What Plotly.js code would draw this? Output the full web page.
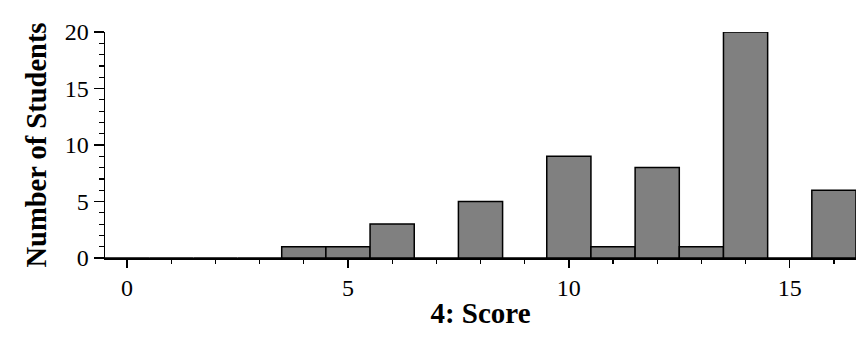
<!DOCTYPE html>
<html><head><meta charset="utf-8">
<script src="https://cdn.plot.ly/plotly-3.0.1.min.js"></script>
<style>html,body{margin:0;padding:0;background:#fff}#chart{width:865px;height:338px}</style>
</head><body><div id="chart"></div>
<script>
const scores = [0,1,2,3,4,5,6,7,8,9,10,11,12,13,14,15,16];
const counts = [0,0,0,0,1,1,3,0,5,0,9,1,8,1,20,0,6];
const xTitle = "4: Score";
const yTitle = "Number of Students";

const font = {family: "Liberation Serif, Times New Roman, serif", color: "#000"};
Plotly.newPlot("chart", [{
  type: "bar", x: scores, y: counts, width: 1,
  marker: {color: "#808080", line: {color: "#000", width: 1.5}},
  hoverinfo: "x+y"
}], {
  width: 865, height: 338,
  margin: {l: 105, r: 9, t: 32, b: 80},
  paper_bgcolor: "#fff", plot_bgcolor: "#fff",
  showlegend: false, bargap: 0,
  font: Object.assign({size: 24}, font),
  xaxis: {
    range: [-0.5, 16.5], dtick: 5, tick0: 0,
    ticks: "outside", ticklen: 8, tickwidth: 1.5, tickcolor: "#000",
    minor: {dtick: 1, tick0: 0, ticks: "outside", ticklen: 4, tickwidth: 1.2, tickcolor: "#000"},
    showline: true, linecolor: "#000", linewidth: 1.5,
    showgrid: false, zeroline: false,
    tickfont: Object.assign({size: 24}, font),
    title: {text: "<b>" + xTitle + "</b>", font: Object.assign({size: 29}, font), standoff: 2}
  },
  yaxis: {
    range: [0, 20], dtick: 5, tick0: 0,
    ticks: "outside", ticklen: 10, tickwidth: 1.5, tickcolor: "#000",
    minor: {dtick: 1, tick0: 0, ticks: "outside", ticklen: 5, tickwidth: 1.2, tickcolor: "#000"},
    showline: true, linecolor: "#000", linewidth: 1.5,
    showgrid: false, zeroline: false,
    tickfont: Object.assign({size: 24}, font),
    title: {text: "<b>" + yTitle + "</b>", font: Object.assign({size: 28.5}, font), standoff: 9}
  }
}, {displayModeBar: false, staticPlot: true});
</script></body></html>
